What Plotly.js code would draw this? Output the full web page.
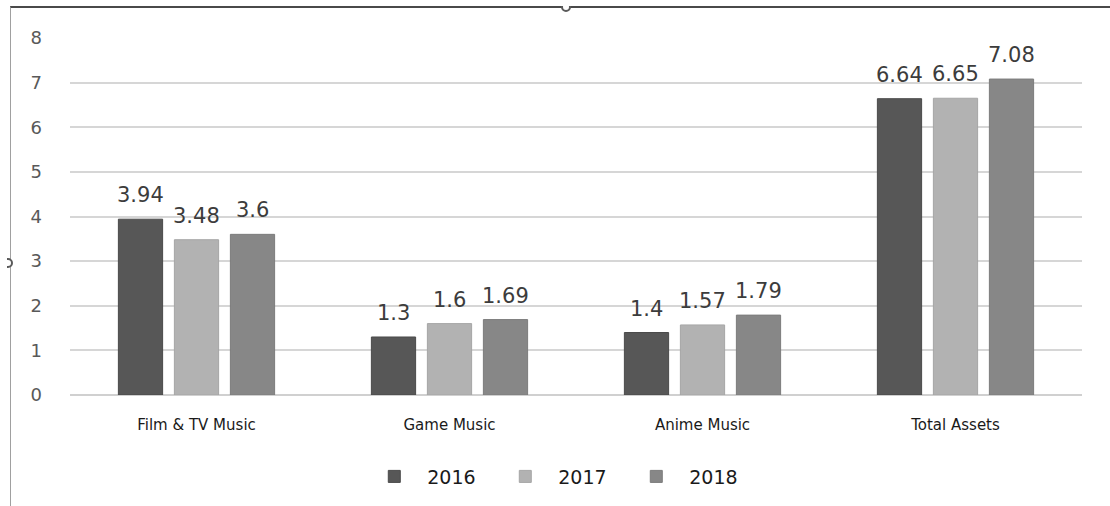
<!DOCTYPE html>
<html>
<head>
<meta charset="utf-8">
<script src="https://cdn.plot.ly/plotly-3.0.1.min.js"></script>
<style>
  html, body { margin: 0; padding: 0; background: #ffffff; }
  #wrap { position: relative; width: 1110px; height: 506px; overflow: hidden; }
  #chart { position: absolute; left: 0; top: 0; width: 1110px; height: 506px; }
  #frame { position: absolute; left: 10px; top: 6px; width: 1120px; height: 520px;
           border-top: 2px solid #4a4a4a; border-left: 1px solid #a0a0a0; pointer-events: none; }
  .handle { position: absolute; width: 10px; height: 10px; border: 2px solid #5a5a5a;
            border-radius: 50%; background: #ffffff; box-sizing: border-box; }
</style>
</head>
<body>
<div id="wrap">
  <div id="chart"></div>
  <div id="frame"></div>
  <div class="handle" style="left:561px; top:2px; clip-path: inset(4px 0 0 0);"></div>
  <div class="handle" style="left:3px; top:258px; clip-path: inset(0 0 0 4px);"></div>
</div>
<script>
// Categories and yearly values
const categories = ["Film & TV Music", "Game Music", "Anime Music", "Total Assets"];
const years = ["2016", "2017", "2018"];
const values2016 = [3.94, 1.3, 1.4, 6.64];
const values2017 = [3.48, 1.6, 1.57, 6.65];
const values2018 = [3.6, 1.69, 1.79, 7.08];
const yTicks = [0, 1, 2, 3, 4, 5, 6, 7, 8];

const seriesValues = [values2016, values2017, values2018];
const fills = ["#575757", "#b2b2b2", "#878787"];
const edges = ["#4a4a4a", "#a6a6a6", "#7c7c7c"];

const W = 1110, H = 506;
const margin = { l: 70, r: 28, t: 38, b: 110 };
const bargap = 0.336;
const bargroupgap = 0.21;

const traces = years.map((yr, i) => ({
  type: "bar",
  name: yr,
  x: categories,
  y: seriesValues[i],
  marker: { color: fills[i], line: { color: edges[i], width: 1 } },
  hoverinfo: "skip"
}));

// Value labels sit a little above each bar, offset to that bar's slot in the group
const plotWidth = W - margin.l - margin.r;
const slotWidth = (plotWidth / categories.length) * (1 - bargap) / years.length;
const annotations = [];
seriesValues.forEach((vals, i) => {
  vals.forEach((v, j) => {
    annotations.push({
      x: categories[j],
      y: v,
      xref: "x",
      yref: "y",
      text: String(v),
      showarrow: false,
      xanchor: "center",
      yanchor: "bottom",
      xshift: (i - (years.length - 1) / 2) * slotWidth,
      yshift: 10,
      font: { family: "DejaVu Sans, sans-serif", size: 21, color: "#3c3c3c" }
    });
  });
});

const layout = {
  width: W,
  height: H,
  margin: margin,
  paper_bgcolor: "#ffffff",
  plot_bgcolor: "#ffffff",
  barmode: "group",
  bargap: bargap,
  bargroupgap: bargroupgap,
  showlegend: true,
  legend: {
    orientation: "h",
    x: 0.482, xanchor: "center",
    y: -0.225, yanchor: "middle",
    font: { family: "DejaVu Sans, sans-serif", size: 19, color: "#1a1a1a" },
    itemwidth: 56,
    entrywidth: 60,
    tracegroupgap: 0
  },
  annotations: annotations,
  xaxis: {
    type: "category",
    showgrid: false,
    showline: false,
    zeroline: false,
    ticks: "",
    ticklabelstandoff: 19,
    tickfont: { family: "DejaVu Sans, sans-serif", size: 15, color: "#1a1a1a" }
  },
  yaxis: {
    range: [0, 8],
    tickvals: yTicks,
    ticktext: yTicks.map(String),
    showgrid: true,
    gridcolor: "#d6d6d6",
    gridwidth: 2,
    zeroline: true,
    zerolinecolor: "#d0d0d0",
    zerolinewidth: 2,
    showline: false,
    ticks: "",
    ticklabelstandoff: 27,
    tickfont: { family: "DejaVu Sans, sans-serif", size: 18, color: "#595959" }
  }
};

Plotly.newPlot("chart", traces, layout, { displayModeBar: false, staticPlot: true });
</script>
</body>
</html>
